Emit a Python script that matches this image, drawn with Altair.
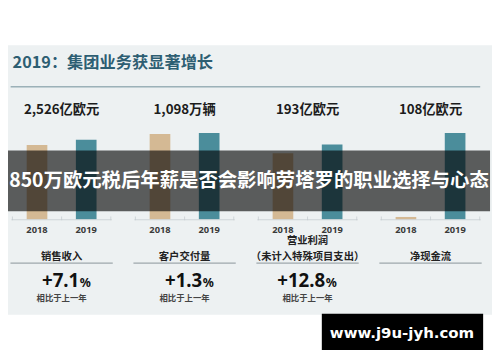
import altair as alt
import pandas as pd

# ---------------- data ----------------
groups = ["销售收入", "客户交付量", "营业利润", "净现金流"]
years = ["2018", "2019"]
values_2018 = [2359, 1084, 171, 3]
values_2019 = [2526, 1098, 193, 108]
value_labels = ["2,526亿欧元", "1,098万辆", "193亿欧元", "108亿欧元"]
title_upper = ["", "", "营业利润", ""]
title_lower = ["销售收入", "客户交付量", "（未计入特殊项目支出）", "净现金流"]
growth_numbers = ["+7.1", "+1.3", "+12.8", ""]
growth_units = ["%", "%", "%", ""]
growth_notes = ["相比于上一年", "相比于上一年", "相比于上一年", ""]
scale_max = [3120, 1250, 254, 123]
title_text = "2019：集团业务获显著增长"
banner_text = "850万欧元税后年薪是否会影响劳塔罗的职业选择与心态"
watermark_text = "www.j9u-jyh.com"
slot_domain = ["L", "2018", "M", "2019", "R"]
tick_slots = ["L", "M", "R"]

bars_df = pd.DataFrame(
    [{"group": g, "year": y, "value": v}
     for g, a, b in zip(groups, values_2018, values_2019)
     for y, v in zip(years, [a, b])]
)
ticks_df = pd.DataFrame([{"group": g, "slot": s} for g in groups for s in tick_slots])
info_df = pd.DataFrame({
    "group": groups,
    "value_label": value_labels,
    "upper": title_upper,
    "lower": title_lower,
    "num": growth_numbers,
    "unit": growth_units,
    "note": growth_notes,
})
one = pd.DataFrame({"title": [title_text], "banner": [banner_text], "wm": [watermark_text]})

CJK = "Noto Sans CJK SC"
X = alt.X("group:N", scale=alt.Scale(domain=groups, range=[-8, 492], paddingInner=0, paddingOuter=0), axis=None)


def XO(field):
    return alt.XOffset(field, scale=alt.Scale(domain=slot_domain, paddingInner=0, paddingOuter=0))


bg = alt.Chart(one).mark_rect(color="#edf1f2").encode(
    x=alt.value(0), x2=alt.value(492), y=alt.value(35), y2=alt.value(309))

title = alt.Chart(one).mark_text(
    align="left", baseline="middle", font=CJK, fontSize=16.5, fontWeight="bold", color="#2d5e72"
).encode(x=alt.value(4.7), y=alt.value(53), text="title:N")

title_rule = alt.Chart(one).mark_rule(color="#6f8e99", strokeWidth=1).encode(
    x=alt.value(2.7), x2=alt.value(480), y=alt.value(77.3))

val_labels = alt.Chart(info_df).mark_text(
    baseline="middle", font=CJK, fontSize=13.5, fontWeight="bold", color="#1c1c1c"
).encode(x=X, y=alt.value(101), text="value_label:N")

bar_layers = []
for g, m in zip(groups, scale_max):
    bar_layers.append(
        alt.Chart(bars_df).transform_filter(alt.datum.group == g).mark_bar(size=21).encode(
            x=X,
            xOffset=XO("year:N"),
            y=alt.Y("value:Q", scale=alt.Scale(domain=[0, m], range=[212, 112]), axis=None),
            color=alt.Color("year:N", scale=alt.Scale(domain=years, range=["#d4b994", "#4b8d9b"]), legend=None),
        )
    )

axis_line = alt.Chart(info_df).mark_tick(
    orient="horizontal", size=102, thickness=1, color="#c3cbce"
).encode(x=X, y=alt.value(212.5))

axis_ticks = alt.Chart(ticks_df).mark_tick(
    orient="vertical", size=4, thickness=1, color="#c3cbce"
).encode(x=X, xOffset=XO("slot:N"), y=alt.value(211))

year_labels = alt.Chart(bars_df).mark_text(
    baseline="middle", font="Noto Sans", fontSize=9.5, fontWeight="bold", color="#3a3a3a"
).encode(x=X, xOffset=XO("year:N"), y=alt.value(222.5), text="year:N")

cat_upper = alt.Chart(info_df).mark_text(
    baseline="middle", font=CJK, fontSize=10.5, fontWeight="bold", color="#222222"
).encode(x=X, y=alt.value(234.5), text="upper:N")

cat_lower = alt.Chart(info_df).mark_text(
    baseline="middle", font=CJK, fontSize=10.5, fontWeight="bold", color="#222222"
).encode(x=X, y=alt.value(250.3), text="lower:N")

underline = alt.Chart(info_df).mark_tick(
    orient="horizontal", size=104, thickness=1.2, color="#7d898e"
).encode(x=X, y=alt.value(256.5))

growth_num = alt.Chart(info_df).mark_text(
    align="right", dx=18, baseline="alphabetic", font="Noto Sans", fontSize=19, fontWeight="bold", color="#111111"
).encode(x=X, y=alt.value(280.5), text="num:N")

growth_unit = alt.Chart(info_df).mark_text(
    align="left", dx=18.5, baseline="alphabetic", font="Noto Sans", fontSize=12.5, fontWeight="bold", color="#111111"
).encode(x=X, y=alt.value(280.5), text="unit:N")

growth_note = alt.Chart(info_df).mark_text(
    baseline="middle", font=CJK, fontSize=8.5, fontWeight="bold", color="#444444"
).encode(x=X, y=alt.value(291.5), text="note:N")

banner_rect = alt.Chart(one).mark_rect(color="#000000", opacity=0.62).encode(
    x=alt.value(0), x2=alt.value(490), y=alt.value(142), y2=alt.value(203.7))

banner = alt.Chart(one).mark_text(
    baseline="middle", font=CJK, fontSize=19.7, fontWeight="bold", color="white"
).encode(x=alt.value(245), y=alt.value(173), text="banner:N")

wm_rect = alt.Chart(one).mark_rect(color="#000000").encode(
    x=alt.value(319), x2=alt.value(483), y=alt.value(308), y2=alt.value(344.7))

wm_text = alt.Chart(one).mark_text(
    baseline="middle", font="DejaVu Sans", fontSize=15.2, fontWeight="bold", color="white"
).encode(x=alt.value(400.5), y=alt.value(328), text="wm:N")

chart = alt.layer(
    bg, title, title_rule, val_labels, *bar_layers, axis_line, axis_ticks, year_labels,
    cat_upper, cat_lower, underline, growth_num, growth_unit, growth_note,
    banner_rect, banner, wm_rect, wm_text,
).resolve_scale(y="independent").properties(
    width=492, height=346, autosize=alt.AutoSizeParams(type="none"), padding=0, background="white"
).configure_view(stroke=None)

chart.save("out.html", embed_options={"renderer": "svg", "actions": False})
